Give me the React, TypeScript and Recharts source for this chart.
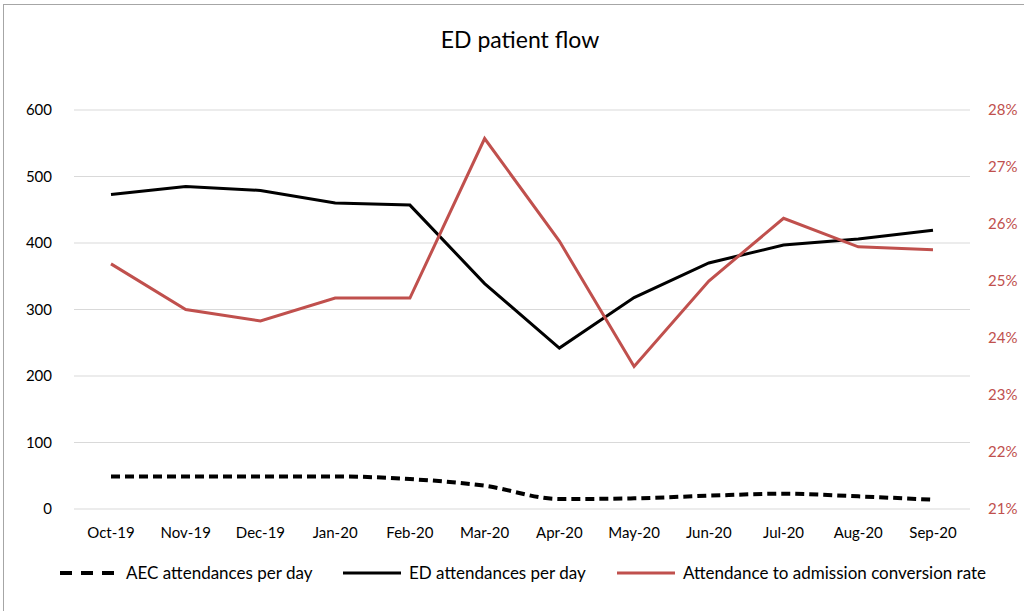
import React from 'react';
import { LineChart, Line, XAxis, YAxis, CartesianGrid } from 'recharts';

// Monthly ED flow, Oct-19 to Sep-20
const months = ['Oct-19', 'Nov-19', 'Dec-19', 'Jan-20', 'Feb-20', 'Mar-20', 'Apr-20', 'May-20', 'Jun-20', 'Jul-20', 'Aug-20', 'Sep-20'];
const aecPerDay = [49, 49, 49, 49, 45, 35, 15, 16, 20, 23, 19, 14];
const edPerDay = [473, 485, 479, 460, 457, 339, 242, 318, 370, 397, 406, 419];
const conversionRate = [25.3, 24.5, 24.3, 24.7, 24.7, 27.5, 25.7, 23.5, 25.0, 26.1, 25.6, 25.55];

const leftTicks = [0, 100, 200, 300, 400, 500, 600];
const rightTicks = [21, 22, 23, 24, 25, 26, 27, 28];

const RED = '#c0504d';
const FONT = 'Lato, "Open Sans", sans-serif';

const data = months.map((m, i) => ({
  month: m,
  aec: aecPerDay[i],
  ed: edPerDay[i],
  rate: conversionRate[i],
}));

const legendItems = [
  { label: 'AEC attendances per day', color: '#000', dashed: true, left: 60 },
  { label: 'ED attendances per day', color: '#000', dashed: false, left: 343 },
  { label: 'Attendance to admission conversion rate', color: RED, dashed: false, left: 617 },
];

export default function App() {
  return (
    <div style={{ position: 'fixed', left: 0, top: 0, width: 1024, height: 611, background: '#fff', fontFamily: FONT }}>
      {/* chart frame, only its top and left edges fall inside the page */}
      <div
        style={{
          position: 'absolute',
          left: 3,
          top: 4,
          width: 1040,
          height: 640,
          border: '1px solid #a6a6a6',
          boxSizing: 'border-box',
        }}
      />
      <div style={{ position: 'absolute', left: 0, top: 25, width: 1040, textAlign: 'center', fontSize: 23, color: '#000' }}>
        ED patient flow
      </div>

      <LineChart
        width={1024}
        height={611}
        data={data}
        margin={{ top: 110, right: 0, bottom: 70, left: 0 }}
        style={{ position: 'absolute', left: 0, top: 0 }}
      >
        <CartesianGrid vertical={false} stroke="#d9d9d9" strokeWidth={1.2} yAxisId="left" />
        <XAxis
          dataKey="month"
          height={32}
          padding={{ left: 37, right: 37 }}
          axisLine={false}
          tickLine={false}
          tickSize={0}
          tickMargin={18}
          interval={0}
          tick={{ fontSize: 15, fill: '#000', fontFamily: FONT }}
        />
        <YAxis
          yAxisId="left"
          width={74}
          domain={[0, 600]}
          ticks={leftTicks}
          axisLine={false}
          tickLine={false}
          tickSize={0}
          tickMargin={22}
          tick={{ fontSize: 15, fill: '#000', fontFamily: FONT }}
        />
        <YAxis
          yAxisId="right"
          orientation="right"
          width={54}
          domain={[21, 28]}
          ticks={rightTicks}
          tickFormatter={(v: number) => `${v}%`}
          axisLine={false}
          tickLine={false}
          tickSize={0}
          tickMargin={18}
          tick={{ fontSize: 15, fill: RED, fontFamily: FONT }}
        />
        <Line
          yAxisId="left"
          type="monotone"
          dataKey="aec"
          stroke="#000"
          strokeWidth={4}
          strokeDasharray="9 5"
          dot={false}
          isAnimationActive={false}
        />
        <Line
          yAxisId="left"
          type="linear"
          dataKey="ed"
          stroke="#000"
          strokeWidth={3}
          dot={false}
          isAnimationActive={false}
        />
        <Line
          yAxisId="right"
          type="linear"
          dataKey="rate"
          stroke={RED}
          strokeWidth={3}
          dot={false}
          isAnimationActive={false}
        />
      </LineChart>

      {legendItems.map((item) => (
        <div
          key={item.label}
          style={{
            position: 'absolute',
            left: item.left,
            top: 562,
            display: 'flex',
            alignItems: 'center',
            fontSize: 17,
            color: '#000',
            whiteSpace: 'nowrap',
          }}
        >
          <svg width={58} height={10} style={{ marginRight: 8 }}>
            <line
              x1={0}
              y1={5}
              x2={58}
              y2={5}
              stroke={item.color}
              strokeWidth={item.dashed ? 4 : 3}
              strokeDasharray={item.dashed ? '12 9' : undefined}
            />
          </svg>
          <span>{item.label}</span>
        </div>
      ))}
    </div>
  );
}
